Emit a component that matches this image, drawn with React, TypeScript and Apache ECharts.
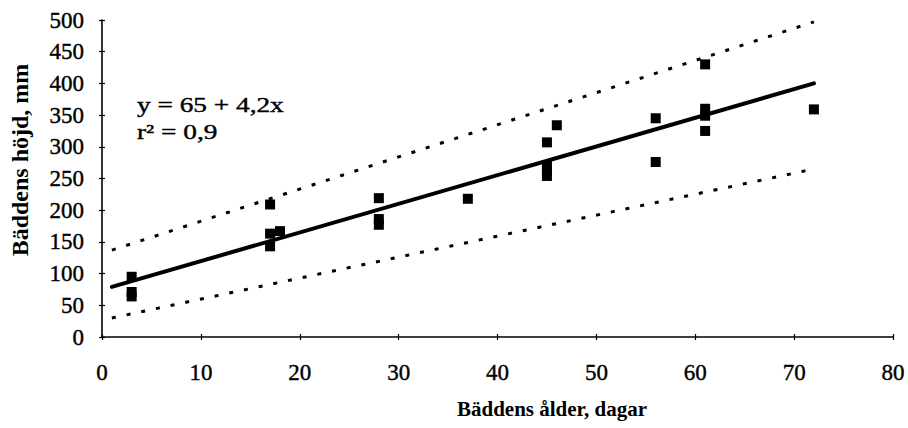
import React, { useEffect, useRef } from "react";
import * as echarts from "echarts";

// Bed age (days) and measured bed height (mm)
const ages = [3, 3, 3, 17, 17, 17, 18, 28, 28, 28, 37, 45, 45, 45, 45, 46, 56, 56, 61, 61, 61, 61, 72];
const heights = [95, 71, 64, 209, 163, 143, 167, 219, 186, 177, 218, 307, 271, 262, 254, 334, 345, 276, 430, 360, 349, 325, 359];

// Fitted line and its dotted band, as end points
const fitX = [1, 72];
const fitY = [79, 400];
const upperY = [137, 497];
const lowerY = [30, 265];

const xTicks = { min: 0, max: 80, interval: 10 };
const yTicks = { min: 0, max: 500, interval: 50 };

const equationLines = ["y = 65 + 4,2x", "r² = 0,9"];
const xTitle = "Bäddens ålder, dagar";
const yTitle = "Bäddens höjd, mm";

const SERIF = "'Liberation Serif', 'Times New Roman', serif";

export default function App() {
  const ref = useRef<HTMLDivElement>(null);

  useEffect(() => {
    if (!ref.current) return;
    const chart = echarts.init(ref.current, undefined, { renderer: "svg" });

    const pair = (xs: number[], ys: number[]) => xs.map((x, i) => [x, ys[i]]);

    const axisBase = {
      type: "value" as const,
      splitLine: { show: false },
      axisLine: { show: true, lineStyle: { color: "#000", width: 1.6 } },
    };

    const tickLabel = {
      color: "#000",
      fontFamily: SERIF,
      fontSize: 23,
      textBorderColor: "#000",
      textBorderWidth: 0.4,
    };

    chart.setOption({
      animation: false,
      backgroundColor: "#fff",
      grid: { left: 102, right: 15, top: 20, bottom: 91, containLabel: false },
      xAxis: [
        {
          ...axisBase,
          ...xTicks,
          position: "bottom",
          axisTick: { show: true, inside: false, length: 3, lineStyle: { color: "#000", width: 1.2 } },
          axisLabel: { ...tickLabel, margin: 24 },
        },
        {
          ...axisBase,
          ...xTicks,
          position: "bottom",
          axisLine: { show: false },
          axisTick: { show: true, inside: true, length: 3, lineStyle: { color: "#000", width: 1.2 } },
          axisLabel: { show: false },
        },
      ],
      yAxis: [
        {
          ...axisBase,
          ...yTicks,
          position: "left",
          axisTick: { show: true, inside: false, length: 3, lineStyle: { color: "#000", width: 1.2 } },
          axisLabel: { ...tickLabel, margin: 18 },
        },
        {
          ...axisBase,
          ...yTicks,
          position: "left",
          axisLine: { show: false },
          axisTick: { show: true, inside: true, length: 3, lineStyle: { color: "#000", width: 1.2 } },
          axisLabel: { show: false },
        },
      ],
      series: [
        {
          type: "line",
          data: pair(fitX, upperY),
          showSymbol: false,
          lineStyle: { color: "#000", width: 3, type: [4, 11] },
        },
        {
          type: "line",
          data: pair(fitX, lowerY),
          showSymbol: false,
          lineStyle: { color: "#000", width: 3, type: [4, 11] },
        },
        {
          type: "line",
          data: pair(fitX, fitY),
          showSymbol: false,
          lineStyle: { color: "#000", width: 4, cap: "round" },
        },
        {
          type: "scatter",
          data: pair(ages, heights),
          symbol: "rect",
          symbolSize: 10,
          itemStyle: { color: "#000", opacity: 1 },
        },
      ],
      graphic: [
        ...equationLines.map((t, i) => ({
          type: "text",
          x: 137,
          y: 105 + i * 27,
          scaleX: 1.3,
          style: {
            text: t,
            font: `21px ${SERIF}`,
            fill: "#000",
            stroke: "#000",
            lineWidth: 0.4,
            textAlign: "left",
            textVerticalAlign: "middle",
            align: "left",
            verticalAlign: "middle",
          },
        })),
        {
          type: "text",
          x: 552,
          y: 409,
          style: {
            text: xTitle,
            font: `bold 21px ${SERIF}`,
            fill: "#000",
            textAlign: "center",
            textVerticalAlign: "middle",
            align: "center",
            verticalAlign: "middle",
          },
        },
        {
          type: "text",
          x: 20,
          y: 160,
          rotation: Math.PI / 2,
          style: {
            text: yTitle,
            font: `bold 24px ${SERIF}`,
            fill: "#000",
            textAlign: "center",
            textVerticalAlign: "middle",
            align: "center",
            verticalAlign: "middle",
          },
        },
      ],
    });

    return () => chart.dispose();
  }, []);

  return (
    <div
      ref={ref}
      style={{ position: "absolute", left: 0, top: 0, width: 908, height: 428, background: "#fff" }}
    />
  );
}
